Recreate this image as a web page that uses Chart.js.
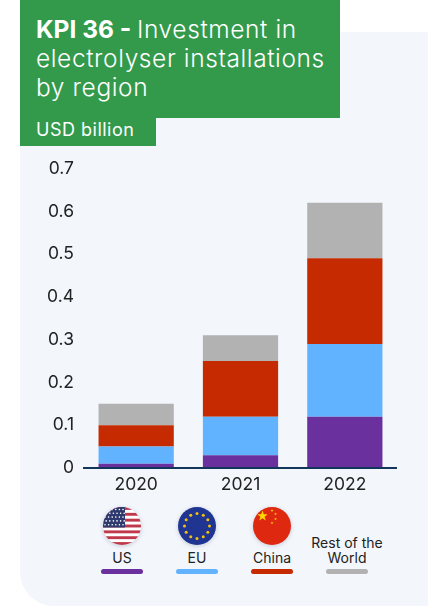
<!DOCTYPE html>
<html>
<head>
<meta charset="utf-8">
<script src="https://cdn.jsdelivr.net/npm/chart.js@4/dist/chart.umd.min.js"></script>
<style>
  html, body { margin: 0; padding: 0; background: #fff; }
  body { width: 428px; height: 606px; position: relative; overflow: hidden; font-family: Inter, sans-serif; color: #222; }
  .panel { position: absolute; left: 20px; top: 32px; width: 440px; height: 574px; background: #f3f6fb; border-radius: 0 30px 0 34px; }
  .title { position: absolute; left: 20px; top: 0; width: 320px; height: 118px; background: #339a4c; }
  .title div { position: absolute; left: 16px; color: #fff; font-size: 24.5px; letter-spacing: .6px; line-height: 29px; white-space: nowrap; font-weight: 300; }
  .title b { font-weight: 700; letter-spacing: 0; }
  .unit { position: absolute; left: 20px; top: 118px; width: 136px; height: 28px; background: #339a4c; }
  .unit span { position: absolute; left: 16px; top: 0; color: #fff; font-size: 18px; letter-spacing: .5px; line-height: 24px; font-weight: 400; white-space: nowrap; }
  .chart { position: absolute; left: 40px; top: 148px; width: 357px; height: 353px; }
  .item { position: absolute; top: 507px; width: 90px; height: 70px; text-align: center; font-size: 14px; line-height: 15px; }
  .item svg { position: absolute; left: 26px; top: 0; filter: drop-shadow(0 1px 2px rgba(60, 70, 110, .25)); }
  .item span { position: absolute; left: -5px; right: -5px; bottom: 12px; }
  .item i { position: absolute; left: 24px; bottom: 3px; width: 42px; height: 5px; border-radius: 2.5px; }
</style>
</head>
<body>
<div class="panel"></div>
<div class="title">
  <div style="top:15px"><b>KPI 36 - </b>Investment in</div>
  <div style="top:44px">electrolyser installations</div>
  <div style="top:73px">by region</div>
</div>
<div class="unit"><span>USD billion</span></div>
<div class="chart"><canvas id="kpiChart"></canvas></div>
<div id="legend"></div>

<script>
const years = ['2020', '2021', '2022'];
const us = [0.01, 0.03, 0.12];
const eu = [0.04, 0.09, 0.17];
const china = [0.05, 0.13, 0.20];
const rest = [0.05, 0.06, 0.13];
const yTicks = ['0', '0.1', '0.2', '0.3', '0.4', '0.5', '0.6', '0.7'];

const regions = ['US', 'EU', 'China', 'Rest of the World'];
const colors = ['#6a309d', '#62b3ff', '#c62a00', '#b2b2b2'];
const legendCentres = [122, 197, 272, 347];

const ctx = document.getElementById('kpiChart');

new Chart(ctx, {
  type: 'bar',
  data: {
    labels: years,
    datasets: [us, eu, china, rest].map((values, i) => ({
      label: regions[i],
      data: values,
      backgroundColor: colors[i],
      categoryPercentage: 1,
      barPercentage: 75 / 104,
    }))
  },
  options: {
    responsive: true,
    maintainAspectRatio: false,
    animation: false,
    layout: { padding: { top: 1 } },
    plugins: { legend: { display: false }, tooltip: { enabled: false } },
    scales: {
      x: {
        stacked: true,
        grid: { display: false, drawTicks: false },
        border: { color: '#12355b', width: 2, z: 1 },
        ticks: { color: '#222', font: { family: 'Inter', size: 17.5 }, padding: 6, maxRotation: 0 },
      },
      y: {
        stacked: true,
        min: 0,
        max: 0.7,
        afterFit(axis) { axis.width = 44; },
        grid: { display: false, drawTicks: false },
        border: { display: false },
        ticks: {
          stepSize: 0.1,
          color: '#222',
          padding: 10,
          font: { family: 'Inter', size: 17.5 },
          callback: (v, i) => yTicks[i],
        },
      }
    }
  }
});

// flags for the legend
function usFlag() {
  let s = '<rect width="38" height="38" fill="#fff"/>';
  for (let i = 0; i < 7; i++) s += `<rect y="${i * 5.85}" width="38" height="2.9" fill="#c0394b"/>`;
  s += '<rect width="22" height="20.5" fill="#2e3a6e"/>';
  for (let r = 0; r < 5; r++) for (let c = 0; c < 6; c++) {
    s += `<circle cx="${2 + c * 3.6 + (r % 2) * 1.2}" cy="${2.5 + r * 3.8}" r=".8" fill="#fff"/>`;
  }
  return s;
}
function euFlag() {
  let s = '<rect width="38" height="38" fill="#1f3591"/>';
  for (let i = 0; i < 12; i++) {
    const a = i * Math.PI / 6;
    s += `<circle cx="${19 + 12.5 * Math.cos(a)}" cy="${19 + 12.5 * Math.sin(a)}" r="1.5" fill="#f4c20d"/>`;
  }
  return s;
}
function star(cx, cy, r) {
  let pts = [];
  for (let i = 0; i < 10; i++) {
    const a = -Math.PI / 2 + i * Math.PI / 5, d = i % 2 ? r * 0.4 : r;
    pts.push((cx + d * Math.cos(a)).toFixed(2) + ',' + (cy + d * Math.sin(a)).toFixed(2));
  }
  return `<polygon points="${pts.join(' ')}" fill="#ffd800"/>`;
}
function chinaFlag() {
  return '<rect width="38" height="38" fill="#de2910"/>' + star(9.5, 9, 5.5) +
    star(19, 3.5, 1.5) + star(22.5, 7, 1.5) + star(22.5, 12, 1.5) + star(19, 16, 1.5);
}

const flags = [usFlag(), euFlag(), chinaFlag(), null];
const legend = document.getElementById('legend');
regions.forEach((name, i) => {
  const item = document.createElement('div');
  item.className = 'item';
  item.style.left = (legendCentres[i] - 45) + 'px';
  const flag = flags[i] ? `<svg width="38" height="38" viewBox="0 0 38 38"><clipPath id="c${i}"><circle cx="19" cy="19" r="19"/></clipPath><g clip-path="url(#c${i})">${flags[i]}</g></svg>` : '';
  item.innerHTML = `${flag}<span>${name.replace('of the ', 'of the<br>')}</span><i style="background:${colors[i]}"></i>`;
  legend.appendChild(item);
});
</script>
</body>
</html>
